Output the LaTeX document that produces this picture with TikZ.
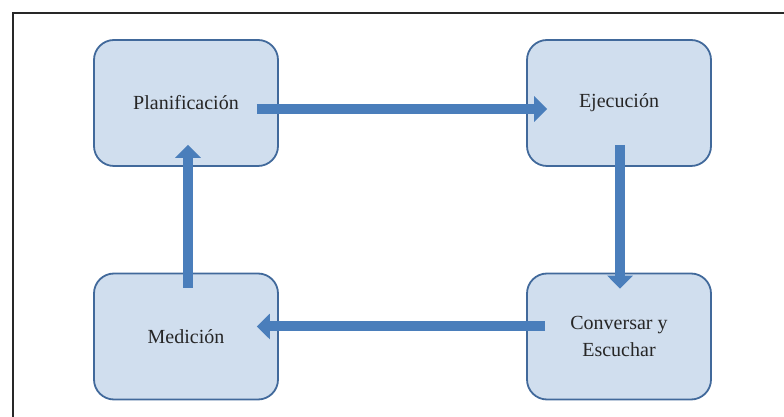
\documentclass[tikz,border=0pt]{standalone}
\usepackage{fontspec}
\setmainfont{Liberation Serif}
\usepackage{tikz}
\usepackage{xcolor}
\usetikzlibrary{arrows.meta,calc,positioning}
\definecolor{boxfill}{RGB}{208,222,238}
\definecolor{boxline}{RGB}{65,105,155}
\definecolor{arrowblue}{RGB}{74,126,187}
\definecolor{framegray}{RGB}{40,40,40}

\begin{document}
\begin{tikzpicture}[x=1pt,y=1pt,
  stage/.style={draw=boxline,fill=boxfill,line width=1.8pt,rounded corners=20pt,
    minimum width=184pt,minimum height=126pt,align=center,inner sep=0pt,
    text=black!85,font=\fontsize{20}{27}\selectfont},
  flow/.style={arrowblue,line width=10pt,-{Triangle[length=13pt,width=25pt]}}]
  \useasboundingbox (0,0) rectangle (784,417);
  \draw[framegray,line width=1.3pt] (784,404)--(13,404)--(13,0);
  \node[stage] (plan) at (186,314) {Planificación};
  \node[stage] (ejec) at (619,314) {Ejecución};
  \node[stage] (conv) at (619,80.5) {Conversar y\\Escuchar};
  \node[stage] (medi) at (186,80.5) {Medición};
  \draw[flow] ($(plan.east)+(-22,-6)$)--($(ejec.west)+(21,-6)$);
  \draw[flow] ($(ejec.south)+(1,22)$)--($(conv.north)+(1,-16)$);
  \draw[flow] ($(conv.west)+(19,10)$)--($(medi.east)+(-22,10)$);
  \draw[flow] ($(medi.north)+(2,-15)$)--($(plan.south)+(2,22)$);
\end{tikzpicture}
\end{document}
